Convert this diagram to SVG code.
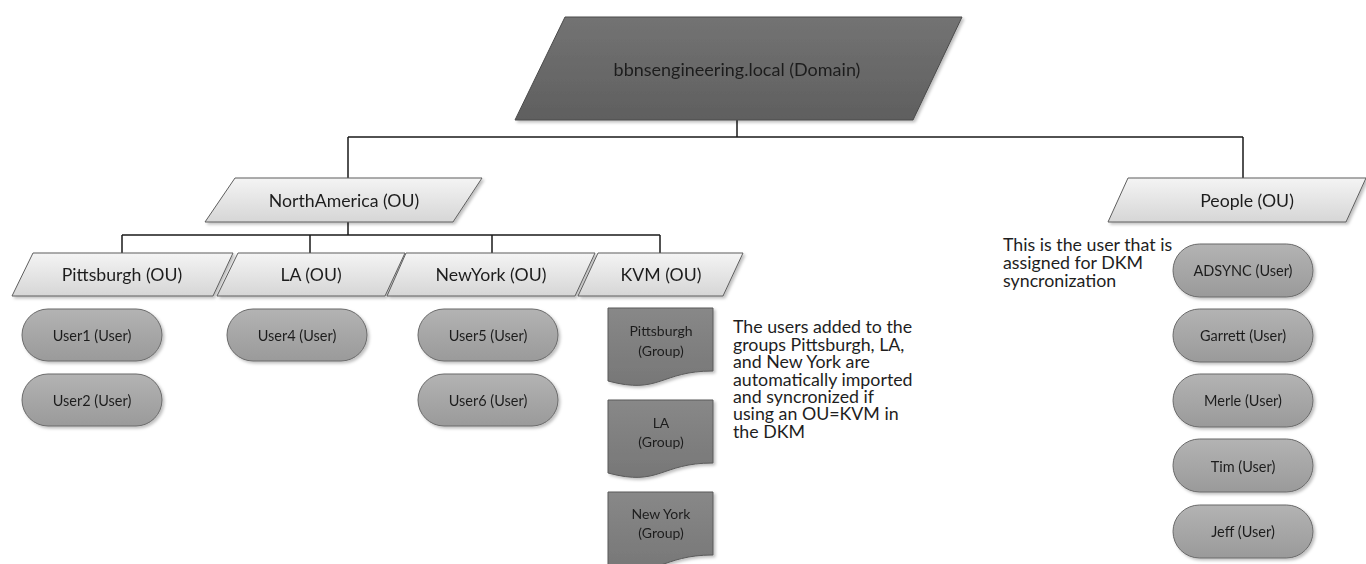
<svg xmlns="http://www.w3.org/2000/svg" width="1366" height="564" viewBox="0 0 1366 564">
<style>
text{font-family:Lato,"Liberation Sans",sans-serif;fill:#1e1e1e;text-anchor:middle;dominant-baseline:central}
.dom{font-size:18px}
.ou{font-size:17.7px}
.usr{font-size:14.5px}
.grp{font-size:14px}
.note{font-size:17.8px;text-anchor:start;dominant-baseline:auto}
.ouS{fill:url(#gOU);stroke:#5e5e5e;stroke-width:1}
.pill{fill:url(#gPill);stroke:#6a6a6a;stroke-width:1}
.doc{fill:url(#gDoc);stroke:#5a5a5a;stroke-width:1}
.conn{fill:none;stroke:#1a1a1a;stroke-width:1.5}
</style>
<defs>
<linearGradient id="gDom" x1="0" y1="0" x2="0" y2="1"><stop offset="0" stop-color="#737373"/><stop offset="1" stop-color="#5f5f5f"/></linearGradient>
<linearGradient id="gOU" x1="0" y1="0" x2="0" y2="1"><stop offset="0" stop-color="#f4f4f4"/><stop offset="1" stop-color="#d6d6d6"/></linearGradient>
<linearGradient id="gPill" x1="0" y1="0" x2="0" y2="1"><stop offset="0" stop-color="#b3b3b3"/><stop offset="1" stop-color="#9a9a9a"/></linearGradient>
<linearGradient id="gDoc" x1="0" y1="0" x2="0" y2="1"><stop offset="0" stop-color="#888"/><stop offset="1" stop-color="#777"/></linearGradient>
<filter id="sh" x="-10%" y="-10%" width="130%" height="140%"><feDropShadow dx="2" dy="2" stdDeviation="1.5" flood-color="#000" flood-opacity="0.25"/></filter>
</defs>

<g id="connectors">
<path class="conn" d="M737,120 V137 M348,137 H1243 M348,137 V178 M1243,137 V178"/>
<path class="conn" d="M348,222 V235 M122,235 H660 M122,235 V253 M310,235 V253 M492,235 V253 M660,235 V253"/>
</g>

<g id="domain" filter="url(#sh)">
<polygon points="565,17 962,17 913,120 515,120" fill="url(#gDom)" stroke="#4a4a4a" stroke-width="1"/>
<text class="dom" x="737" y="69">bbnsengineering.local (Domain)</text>
</g>

<g id="northamerica" filter="url(#sh)">
<polygon class="ouS" points="235,178 482,178 453,222 205,222"/>
<text class="ou" x="344" y="200">NorthAmerica (OU)</text>
</g>

<g id="people" filter="url(#sh)">
<polygon class="ouS" points="1128,178 1366,178 1346,222 1108,222"/>
<text class="ou" x="1247" y="200">People (OU)</text>
</g>

<g id="pittsburgh-ou" filter="url(#sh)">
<polygon class="ouS" points="33,253 233,253 213,296 12,296"/>
<text class="ou" x="122" y="274">Pittsburgh (OU)</text>
</g>
<g id="la-ou" filter="url(#sh)">
<polygon class="ouS" points="238,253 405,253 385,296 217,296"/>
<text class="ou" x="311" y="274">LA (OU)</text>
</g>
<g id="newyork-ou" filter="url(#sh)">
<polygon class="ouS" points="406,253 595,253 575,296 387,296"/>
<text class="ou" x="491" y="274">NewYork (OU)</text>
</g>
<g id="kvm-ou" filter="url(#sh)">
<polygon class="ouS" points="598,253 743,253 723,296 578,296"/>
<text class="ou" x="661" y="274">KVM (OU)</text>
</g>

<g id="user1" filter="url(#sh)"><rect class="pill" x="22" y="309" width="140" height="52" rx="26"/><text class="usr" x="92" y="335">User1 (User)</text></g>
<g id="user2" filter="url(#sh)"><rect class="pill" x="22" y="374" width="140" height="52" rx="26"/><text class="usr" x="92" y="400">User2 (User)</text></g>
<g id="user4" filter="url(#sh)"><rect class="pill" x="227" y="309" width="140" height="52" rx="26"/><text class="usr" x="297" y="335">User4 (User)</text></g>
<g id="user5" filter="url(#sh)"><rect class="pill" x="418" y="309" width="140" height="52" rx="26"/><text class="usr" x="488" y="335">User5 (User)</text></g>
<g id="user6" filter="url(#sh)"><rect class="pill" x="418" y="374" width="140" height="52" rx="26"/><text class="usr" x="488" y="400">User6 (User)</text></g>

<g id="grp-pittsburgh" filter="url(#sh)">
<path class="doc" d="M608,308 H713 V371 C660,371 660,395 608,381 Z"/>
<text class="grp" x="661" y="330">Pittsburgh</text><text class="grp" x="661" y="350">(Group)</text>
</g>
<g id="grp-la" filter="url(#sh)">
<path class="doc" d="M608,400 H713 V463 C660,463 660,487 608,473 Z"/>
<text class="grp" x="661" y="422">LA</text><text class="grp" x="661" y="441">(Group)</text>
</g>
<g id="grp-newyork" filter="url(#sh)">
<path class="doc" d="M608,492 H713 V555 C660,555 660,579 608,565 Z"/>
<text class="grp" x="661" y="513">New York</text><text class="grp" x="661" y="532">(Group)</text>
</g>

<g id="note-kvm">
<text class="note" x="733" y="333"><tspan x="733" y="333">The users added to the</tspan><tspan x="733" y="351">groups Pittsburgh, LA,</tspan><tspan x="733" y="368">and New York are</tspan><tspan x="733" y="386">automatically imported</tspan><tspan x="733" y="403">and syncronized if</tspan><tspan x="733" y="420">using an OU=KVM in</tspan><tspan x="733" y="438">the DKM</tspan></text>
</g>

<g id="note-people">
<text class="note" x="1003" y="251"><tspan x="1003" y="251">This is the user that is</tspan><tspan x="1003" y="269">assigned for DKM</tspan><tspan x="1003" y="287">syncronization</tspan></text>
</g>

<g id="adsync" filter="url(#sh)"><rect class="pill" x="1173" y="244" width="140" height="53" rx="26.5"/><text class="usr" x="1243" y="270">ADSYNC (User)</text></g>
<g id="garrett" filter="url(#sh)"><rect class="pill" x="1173" y="309" width="140" height="53" rx="26.5"/><text class="usr" x="1243" y="335">Garrett (User)</text></g>
<g id="merle" filter="url(#sh)"><rect class="pill" x="1173" y="374" width="140" height="53" rx="26.5"/><text class="usr" x="1243" y="400">Merle (User)</text></g>
<g id="tim" filter="url(#sh)"><rect class="pill" x="1173" y="439" width="140" height="53" rx="26.5"/><text class="usr" x="1243" y="466">Tim (User)</text></g>
<g id="jeff" filter="url(#sh)"><rect class="pill" x="1173" y="505" width="140" height="53" rx="26.5"/><text class="usr" x="1243" y="531">Jeff (User)</text></g>
</svg>
